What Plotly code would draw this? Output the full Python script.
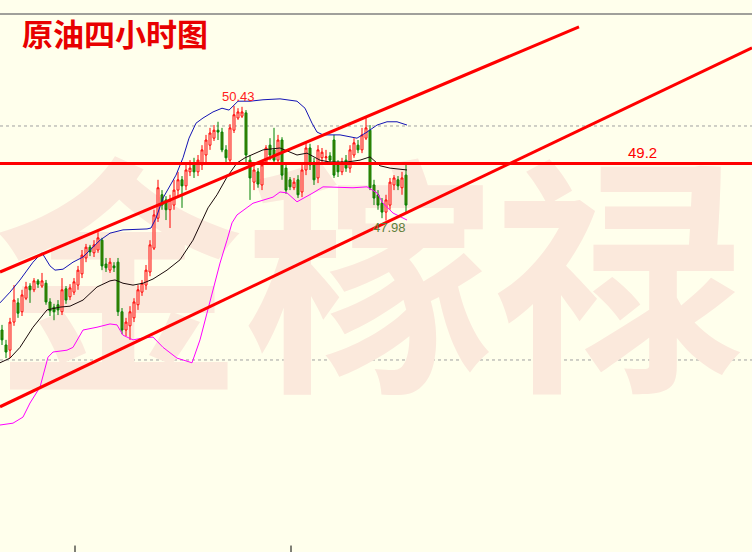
import plotly.graph_objects as go

# ---- candle data (4-hour crude oil) ----
open_ = [45.64, 45.32, 45.21, 45.81, 46.22, 46.03, 46.32, 46.58, 46.50, 46.69,
         46.58, 46.64, 46.24, 46.13, 46.18, 46.03, 46.52, 46.35, 46.45, 46.60,
         46.84, 47.18, 47.41, 47.29, 47.35, 47.56, 47.05, 46.92, 47.01, 47.09,
         46.03, 45.64, 45.73, 45.90, 46.18, 46.45, 46.60, 46.88, 47.39, 48.03,
         48.53, 48.42, 48.21, 48.31, 48.63, 48.85, 48.72, 49.02, 49.21, 49.02,
         49.17, 49.38, 49.59, 49.74, 49.91, 49.87, 49.49, 49.27, 49.91, 50.17,
         50.21, 50.28, 49.27, 48.80, 49.02, 48.74, 49.23, 49.59, 49.49, 49.27,
         49.70, 49.10, 48.85, 48.68, 48.85, 48.59, 49.06, 49.53, 49.23, 48.89,
         49.32, 49.32, 49.36, 49.70, 49.17, 49.02, 49.27, 49.10, 49.38, 49.59,
         49.49, 49.74, 49.91, 48.74, 48.53, 48.35, 48.16, 48.31, 48.74, 48.85,
         48.68, 48.95]
high = [45.75, 45.43, 45.90, 46.60, 46.32, 46.50, 46.67, 46.64, 46.75, 46.73,
        46.86, 46.71, 46.32, 46.20, 46.28, 46.75, 46.58, 46.62, 46.75, 47.01,
        47.35, 47.48, 47.46, 47.56, 47.73, 47.61, 47.18, 47.18, 47.09, 47.18,
        46.11, 45.90, 46.15, 46.32, 46.60, 46.71, 47.03, 47.56, 48.21, 48.85,
        48.63, 48.50, 48.53, 48.85, 49.02, 48.93, 49.17, 49.27, 49.32, 49.38,
        49.59, 49.81, 49.96, 50.02, 50.09, 49.96, 49.59, 50.04, 50.43, 50.38,
        50.41, 50.34, 49.38, 49.17, 49.10, 49.27, 49.59, 49.74, 49.96, 49.81,
        49.76, 49.17, 48.91, 48.89, 48.95, 49.17, 49.66, 49.62, 49.32, 49.59,
        49.53, 49.49, 49.44, 49.81, 49.27, 49.32, 49.38, 49.59, 49.74, 49.70,
        49.96, 50.19, 50.02, 48.85, 48.63, 48.46, 48.53, 48.89, 48.95, 48.93,
        49.02, 49.17]
low = [45.32, 45.04, 45.04, 45.73, 45.90, 45.94, 46.28, 46.22, 46.45, 46.54,
       46.54, 46.18, 45.94, 45.85, 45.96, 45.96, 46.20, 46.28, 46.39, 46.50,
       46.75, 47.09, 47.22, 47.20, 47.29, 46.92, 46.88, 46.86, 46.88, 45.94,
       45.55, 45.51, 45.43, 45.81, 46.07, 46.37, 46.50, 46.79, 47.35, 47.95,
       48.21, 47.99, 47.82, 48.21, 48.50, 48.25, 48.63, 48.93, 48.89, 48.93,
       49.06, 49.17, 49.49, 49.68, 49.70, 49.44, 49.23, 49.21, 49.85, 50.13,
       50.17, 49.21, 48.42, 48.63, 48.68, 48.63, 49.17, 49.27, 49.17, 49.21,
       48.85, 48.55, 48.63, 48.63, 48.46, 48.48, 48.95, 49.06, 48.74, 48.78,
       49.23, 49.17, 49.21, 48.89, 48.91, 48.95, 49.02, 49.00, 49.32, 49.42,
       49.42, 49.70, 48.63, 48.31, 48.21, 48.03, 47.98, 48.21, 48.63, 48.63,
       48.53, 48.16]
close = [45.43, 45.17, 45.81, 46.28, 46.00, 46.39, 46.56, 46.50, 46.69, 46.62,
         46.69, 46.24, 46.05, 46.03, 46.07, 46.50, 46.28, 46.54, 46.67, 46.92,
         47.24, 47.41, 47.31, 47.46, 47.61, 47.01, 46.97, 47.09, 46.97, 46.03,
         45.64, 45.81, 46.03, 46.24, 46.50, 46.64, 46.92, 47.46, 48.10, 48.68,
         48.31, 48.21, 48.42, 48.63, 48.85, 48.72, 49.06, 49.10, 49.02, 49.27,
         49.49, 49.70, 49.85, 49.91, 49.87, 49.49, 49.32, 49.96, 50.24, 50.30,
         50.30, 49.38, 48.89, 49.06, 48.76, 49.17, 49.53, 49.38, 49.27, 49.70,
         48.95, 48.63, 48.70, 48.80, 48.53, 49.06, 49.53, 49.17, 48.85, 49.49,
         49.44, 49.34, 49.27, 48.95, 49.02, 49.23, 49.10, 49.49, 49.64, 49.49,
         49.81, 49.96, 48.68, 48.46, 48.31, 48.16, 48.42, 48.80, 48.89, 48.72,
         48.89, 48.31]
bar_index = list(range(len(open_)))

# ---- Bollinger bands ----
upper_x = [-0.5, 2, 4.5, 6.25, 7.75, 10, 12, 13.25, 15.25, 17.75, 20.25, 24.5, 27, 30.25,
           36.25, 37.25, 38.5, 40.25, 41.75, 43.5, 45.25, 46.75, 48.5, 50.25, 52.75, 55,
           56.75, 59, 62, 65.25, 69.5, 73.75, 75.75, 77.5, 78.75, 80.25, 84.5, 87, 88.75,
           91.25, 93.75, 96.25, 98.75, 101.25]
upper_y = [46.22, 46.45, 46.71, 46.92, 47.09, 47.29, 47.01, 46.92, 46.94, 47.09, 47.20,
           47.56, 47.71, 47.78, 47.80, 47.82, 48.03, 48.46, 48.68, 48.95, 49.32, 49.74,
           50.06, 50.17, 50.30, 50.38, 50.34, 50.53, 50.53, 50.56, 50.58, 50.53, 50.38,
           50.06, 49.87, 49.81, 49.81, 49.76, 49.74, 49.87, 50.02, 50.09, 50.09, 50.02]
mid_x = [-0.5, 2, 4.5, 7.75, 11.25, 14.5, 17, 20.25, 23.75, 27, 28.25, 30.25, 32.75,
         35.25, 37.75, 41.25, 44.5, 47.75, 51.5, 53.75, 56.25, 58.75, 60.75, 65.25,
         69.5, 72, 73.75, 76.25, 79.5, 82, 86.25, 89.5, 92, 94.5, 97, 101.25]
mid_y = [44.94, 45.04, 45.27, 45.70, 46.07, 46.13, 46.15, 46.28, 46.56, 46.69, 46.71,
         46.64, 46.60, 46.64, 46.73, 46.92, 47.14, 47.56, 48.25, 48.53, 48.91, 49.21,
         49.32, 49.49, 49.53, 49.44, 49.38, 49.42, 49.27, 49.23, 49.23, 49.27, 49.34,
         49.15, 49.10, 49.06]
lower_x = [-0.5, 2.75, 5.25, 7, 9.5, 11.5, 12.75, 16.25, 17.75, 20.25, 23.75, 27, 28.75,
           30.25, 32.75, 35.25, 37.75, 40.25, 43.75, 47.5, 49.5, 52, 54.5, 56.25, 57.5,
           58.75, 62.75, 67.75, 69.5, 71.25, 73.75, 77.75, 80.25, 87.75, 91.25, 93.75,
           95.25, 97.75, 101.25]
lower_y = [43.61, 43.65, 43.78, 44.08, 44.42, 45.06, 45.17, 45.21, 45.27, 45.64, 45.70,
           45.77, 45.75, 45.53, 45.43, 45.47, 45.49, 45.27, 45.04, 44.94, 45.43, 46.28,
           47.07, 47.56, 47.93, 48.10, 48.35, 48.48, 48.59, 48.57, 48.38, 48.57, 48.70,
           48.68, 48.70, 48.57, 48.35, 48.14, 47.99]

# ---- drawn levels / channel lines ----
level_price = 49.2
grid_prices = [50.0, 45.0]
upper_trend = [-0.5, 46.88, 144.25, 52.12]   # x0, y0, x1, y1
lower_trend = [-0.5, 44.00, 187.5, 51.67]
sep_marks = [18.25, 72.25]
title_text = "原油四小时图"
watermark_text = "金稼禄"

BG = "#FFFFEC"
x_range = [-0.5, 187.5]
y_range = [40.897, 52.393]

fig = go.Figure()

# watermark on base axes (drawn beneath)
fig.add_trace(go.Scatter(
    x=[0.49], y=[0.45], mode="text", text=[watermark_text],
    textfont=dict(size=250, color="#FBE9DC", family="Noto Sans CJK SC", weight="bold"),
    hoverinfo="skip", showlegend=False, xaxis="x", yaxis="y"))

fig.add_trace(go.Candlestick(
    x=bar_index, open=open_, high=high, low=low, close=close,
    increasing=dict(line=dict(color="#FF0000", width=1), fillcolor=BG),
    decreasing=dict(line=dict(color="#008000", width=1), fillcolor="#5F7F00"),
    whiskerwidth=0, showlegend=False, xaxis="x2", yaxis="y2"))

fig.add_trace(go.Scatter(x=upper_x, y=upper_y, mode="lines",
                         line=dict(color="#1414B4", width=1), showlegend=False,
                         xaxis="x2", yaxis="y2"))
fig.add_trace(go.Scatter(x=mid_x, y=mid_y, mode="lines",
                         line=dict(color="#1A0A0A", width=1), showlegend=False,
                         xaxis="x2", yaxis="y2"))
fig.add_trace(go.Scatter(x=lower_x, y=lower_y, mode="lines",
                         line=dict(color="#FF00FF", width=1), showlegend=False,
                         xaxis="x2", yaxis="y2"))

shapes = []
for g in grid_prices:
    shapes.append(dict(type="line", xref="paper", yref="y2", x0=0, x1=1, y0=g, y1=g,
                       line=dict(color="#A0A0A0", width=1, dash="dot"), layer="below"))
shapes.append(dict(type="line", xref="paper", yref="y2", x0=0, x1=1,
                   y0=level_price, y1=level_price, line=dict(color="#FF0000", width=3)))
for t in (upper_trend, lower_trend):
    shapes.append(dict(type="line", xref="x2", yref="y2", x0=t[0], y0=t[1], x1=t[2], y1=t[3],
                       line=dict(color="#FF0000", width=3)))
shapes.append(dict(type="line", xref="paper", yref="paper", x0=0, x1=1, y0=1, y1=1,
                   line=dict(color="#808080", width=1.5)))
for s in sep_marks:
    shapes.append(dict(type="line", xref="x2", yref="paper", x0=s, x1=s, y0=0, y1=0.012,
                       line=dict(color="#000000", width=1)))

hi_i = max(bar_index, key=lambda i: high[i])
lo_i = min(bar_index[hi_i:], key=lambda i: low[i])
annotations = [
    dict(xref="paper", yref="paper", x=0.026, y=0.9665, xanchor="left", yanchor="middle",
         text="<b>" + title_text + "</b>", showarrow=False,
         font=dict(size=31, color="#E80000", family="Noto Sans CJK SC")),
    dict(xref="x2", yref="y2", x=hi_i, y=high[hi_i], xshift=4, yanchor="bottom", yshift=0,
         text=f"{high[hi_i]:.2f}", showarrow=False,
         font=dict(size=13, color="#FF2020", family="Liberation Sans")),
    dict(xref="x2", yref="y2", x=lo_i, y=low[lo_i], xshift=3, yanchor="top", yshift=3,
         text=f"{low[lo_i]:.2f}", showarrow=False,
         font=dict(size=13, color="#5E7F3A", family="Liberation Sans")),
    dict(xref="x2", yref="y2", x=160, y=level_price, yanchor="bottom", yshift=0,
         text=f"{level_price:g}", showarrow=False,
         font=dict(size=15, color="#FF0000", family="Liberation Sans")),
]

fig.update_layout(
    width=752, height=552,
    margin=dict(l=0, r=0, t=14, b=0, pad=0, autoexpand=False),
    paper_bgcolor=BG, plot_bgcolor=BG,
    xaxis=dict(range=[0, 1], visible=False, fixedrange=True, automargin=False),
    yaxis=dict(range=[0, 1], visible=False, fixedrange=True, automargin=False),
    xaxis2=dict(range=x_range, visible=False, overlaying="x", automargin=False,
                rangeslider=dict(visible=False)),
    yaxis2=dict(range=y_range, visible=False, overlaying="y", automargin=False),
    shapes=shapes, annotations=annotations, showlegend=False,
)

fig.write_html("out.html", config={"displayModeBar": False},
               post_script="document.body.style.margin='0';document.body.style.padding='0';"
                           "document.body.style.background='" + BG + "';")
